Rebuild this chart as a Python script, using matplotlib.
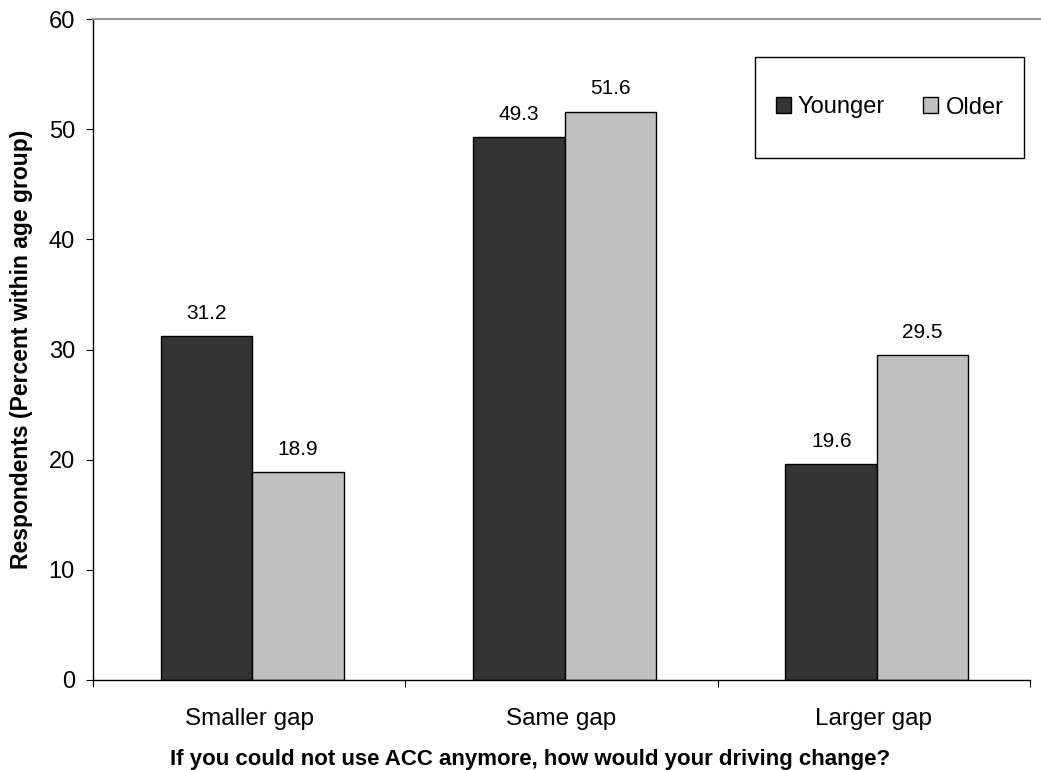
import matplotlib.pyplot as plt
from matplotlib.lines import Line2D
from matplotlib.patches import Rectangle
import numpy as np

categories = ['Smaller gap', 'Same gap', 'Larger gap']
younger = [31.2, 49.3, 19.6]
older = [18.9, 51.6, 29.5]

plt.rcParams['font.family'] = ['Liberation Sans', 'DejaVu Sans']

W, H = 1041, 770
fig = plt.figure(figsize=(W/100, H/100), dpi=100)
ax = fig.add_axes([93/W, (H-680)/H, (1030-93)/W, (680-19)/H])

x = np.arange(len(categories))
w = 0.293
b1 = ax.bar(x - w/2 + 0.01, younger, w, color='#333333', edgecolor='black', linewidth=1, label='Younger')
b2 = ax.bar(x + w/2 + 0.01, older, w, color='#c0c0c0', edgecolor='black', linewidth=1, label='Older')

for bars, vals in ((b1, younger), (b2, older)):
    for r, v in zip(bars, vals):
        ax.text(r.get_x() + r.get_width()/2, v + 1.2, f'{v:.1f}', ha='center', va='bottom', fontsize=15)

ax.set_xlim(-0.5, 2.5)
ax.set_ylim(0, 60)
ax.set_yticks(range(0, 61, 10))
ax.set_xticks([-0.5, 0.5, 1.5, 2.5])
ax.set_xticklabels([])
ax.set_xticks(x, minor=True)
ax.set_xticklabels(categories, minor=True, fontsize=17.5)
ax.tick_params(axis='x', which='minor', length=0, pad=20)
ax.tick_params(axis='x', which='major', direction='out', length=5)
ax.tick_params(axis='y', direction='out', length=5, labelsize=17, pad=8)

ax.spines['right'].set_visible(False)
ax.spines['top'].set_visible(False)
ax.spines['left'].set_linewidth(1)
ax.spines['bottom'].set_linewidth(1)
fig.add_artist(Line2D([93/W, 1040/W], [(H-19)/H, (H-19)/H], color='#999999', linewidth=1.5))

ax.set_ylabel('Respondents (Percent within age group)', fontsize=16.5, fontweight='bold', labelpad=11)
ax.set_xlabel('If you could not use ACC anymore, how would your driving change?', fontsize=16, fontweight='bold')
ax.xaxis.set_label_coords((530-93)/(1030-93), -0.104)

# legend box
box = Rectangle((755/W, (H-158)/H), (1024-755)/W, (158-57)/H, transform=fig.transFigure,
                facecolor='white', edgecolor='black', linewidth=1, zorder=5, clip_on=False)
ax.add_patch(box)
leg = ax.legend(loc='center', bbox_to_anchor=(889.5/W, (H-107.5)/H), bbox_transform=fig.transFigure,
                fontsize=17, ncol=2, frameon=False, handlelength=0.65, handleheight=0.65,
                handletextpad=0.3, columnspacing=1.6, borderpad=0)
leg.set_zorder(6)

fig.savefig('out.png', dpi=100)
